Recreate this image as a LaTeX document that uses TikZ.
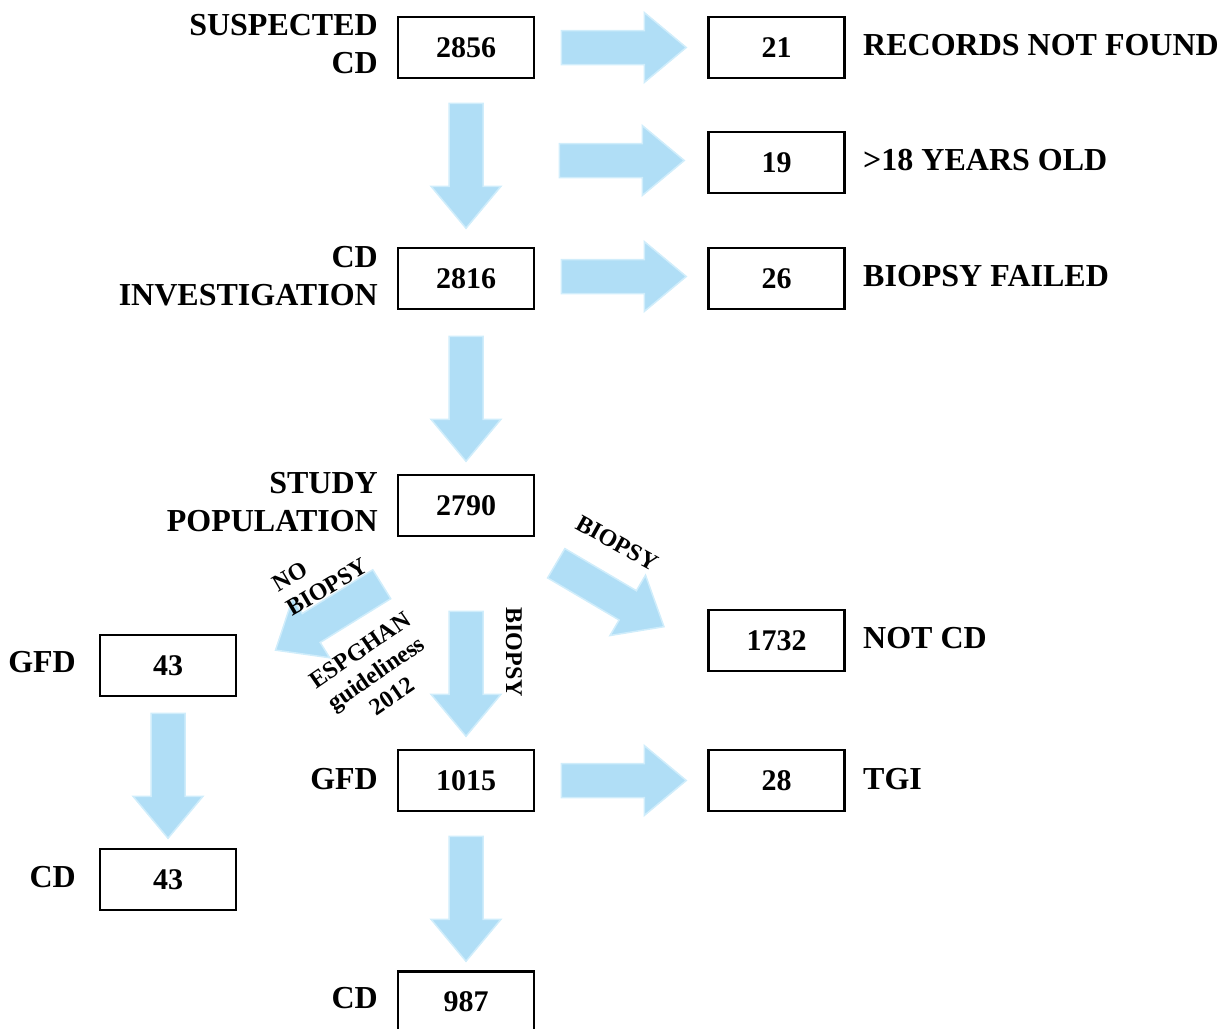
\documentclass[tikz,border=0pt]{standalone}
\usepackage{fontspec}
\setmainfont{Liberation Serif}
\usetikzlibrary{calc}
\definecolor{arrowblue}{RGB}{176,222,246}
\definecolor{arrowedge}{RGB}{208,237,251}
\tikzset{
  numbox/.style={draw, line width=2.5pt, fill=white, minimum width=136pt, minimum height=61pt, inner sep=0pt,
    font=\fontsize{30}{34}\selectfont\bfseries},
  lbl/.style={inner sep=0pt, font=\fontsize{32}{38}\selectfont\bfseries},
  small/.style={inner sep=0pt, font=\fontsize{24}{28}\selectfont\bfseries},
  pics/blockarrow/.style={code={
    \filldraw[fill=arrowblue, draw=arrowedge, line width=1.5pt]
      (0,-17) -- (83,-17) -- (83,-35) -- (125,0) -- (83,35) -- (83,17) -- (0,17) -- cycle;
  }}
}
\begin{document}
\begin{tikzpicture}[x=1pt, y=-1pt]
\useasboundingbox (0,0) rectangle (1218,1028);
% boxes
\node[numbox] (n2856) at (466,47.5) {2856};
\node[numbox] (n21) at (776.5,47.5) {21};
\node[numbox] (n19) at (776.5,162.5) {19};
\node[numbox] (n2816) at (466,278.5) {2816};
\node[numbox] (n26) at (776.5,278.5) {26};
\node[numbox] (n2790) at (466,505.5) {2790};
\node[numbox] (n1732) at (776.5,640.5) {1732};
\node[numbox] (n43a) at (168,665.5) {43};
\node[numbox] (n1015) at (466,780.5) {1015};
\node[numbox] (n28) at (776.5,780.5) {28};
\node[numbox] (n43b) at (168,879.5) {43};
\node[numbox] (n987) at (466,1002) {987};
% left labels
\node[lbl, anchor=east, align=right] (l2856) at (378,44) {SUSPECTED\\CD};
\node[lbl, anchor=east, align=right] (l2816) at (378,276) {CD\\INVESTIGATION};
\node[lbl, anchor=east, align=right] (l2790) at (378,502) {STUDY\\POPULATION};
\node[lbl, anchor=east] (l43a) at (76,662) {GFD};
\node[lbl, anchor=east] (l43b) at (76,877) {CD};
\node[lbl, anchor=east] (l1015) at (378,779) {GFD};
\node[lbl, anchor=east] (l987) at (378,998) {CD};
% right labels
\node[lbl, anchor=west] (r21) at (863,45) {RECORDS NOT FOUND};
\node[lbl, anchor=west] (r19) at (863,160) {>18 YEARS OLD};
\node[lbl, anchor=west] (r26) at (863,276) {BIOPSY FAILED};
\node[lbl, anchor=west] (r1732) at (863,638) {NOT CD};
\node[lbl, anchor=west] (r28) at (863,779) {TGI};
% block arrows
\pic at ($(n2856.east)+(26,0)$) {blockarrow};
\pic at ($(n19.west)+(-148,-2)$) {blockarrow};
\pic at ($(n2816.east)+(26,-2)$) {blockarrow};
\pic at ($(n1015.east)+(26,0)$) {blockarrow};
\pic[rotate=-90] at ($(n2856.south)+(0,24)$) {blockarrow};
\pic[rotate=-90] at ($(n2816.south)+(0,26)$) {blockarrow};
\pic[rotate=-90] at ($(n2790.south)+(0,74)$) {blockarrow};
\pic[rotate=-90] at ($(n1015.south)+(0,24)$) {blockarrow};
\pic[rotate=-90] at ($(n43a.south)+(0,16)$) {blockarrow};
\pic[rotate=211.8] at ($(n2790.south west)+(-15,47)$) {blockarrow};
\pic[rotate=-30.5] at ($(n2790.south east)+(21,26)$) {blockarrow};
% small rotated labels
\node[small, rotate=30.5, align=left] (tNoB) at (320,575) {NO\\BIOPSY};
\node[small, rotate=34.5, align=center] (tEsp) at (376,673) {ESPGHAN\\guideliness\\2012};
\node[small, rotate=-29] (tBioR) at (617,543) {BIOPSY};
\node[small, rotate=-90] (tBioD) at (514,652) {BIOPSY};
\end{tikzpicture}
\end{document}
